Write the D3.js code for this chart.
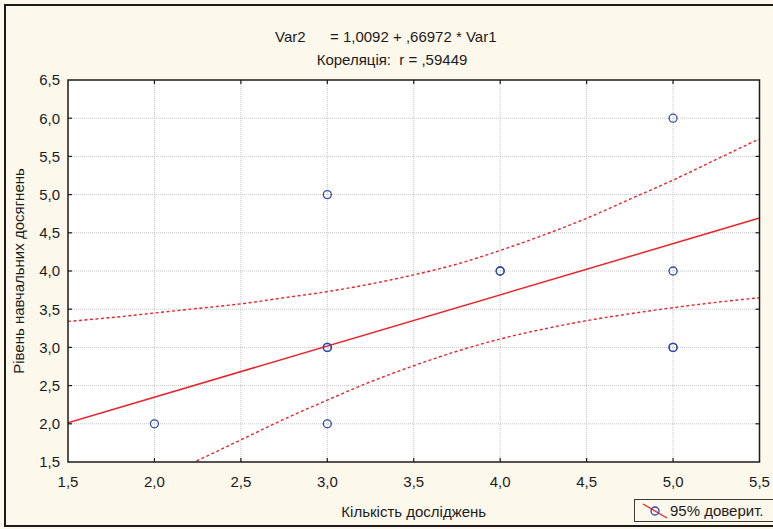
<!DOCTYPE html>
<html>
<head>
<meta charset="utf-8">
<script src="https://cdn.jsdelivr.net/npm/d3@7"></script>
<style>
  html, body { margin: 0; padding: 0; background: #fdf8ec; }
  svg { display: block; font-family: "Liberation Sans", Arial, sans-serif; }
</style>
</head>
<body>
<svg id="chart" width="773" height="529"></svg>
<script>
// Observations (Var1 = number of studies, Var2 = achievement level); repeated pairs are listed twice
const obsX = [2, 3, 3, 3, 3, 4, 4, 5, 5, 5, 5];
const obsY = [2, 5, 3, 3, 2, 4, 4, 6, 4, 3, 3];

// Fitted line Var2 = a + b * Var1
const intercept = 1.0092;
const slope = 0.66972;
const corr = 0.59449;

// 95% confidence band around the fit
const bandX     = [1.5, 1.75, 2.0, 2.25, 2.5, 2.75, 3.0, 3.25, 3.5, 3.75, 4.0, 4.25, 4.5, 4.75, 5.0, 5.25, 5.5];
const bandUpper = [3.34, 3.39, 3.45, 3.51, 3.57, 3.65, 3.73, 3.83, 3.95, 4.09, 4.27, 4.47, 4.69, 4.94, 5.19, 5.46, 5.73];
const bandLower = [0.69, 0.97, 1.25, 1.52, 1.79, 2.06, 2.31, 2.55, 2.76, 2.95, 3.11, 3.24, 3.35, 3.44, 3.52, 3.59, 3.65];

const xTicks = [1.5, 2.0, 2.5, 3.0, 3.5, 4.0, 4.5, 5.0, 5.5];
const yTicks = [1.5, 2.0, 2.5, 3.0, 3.5, 4.0, 4.5, 5.0, 5.5, 6.0, 6.5];

const xTitle = "Кількість досліджень";
const yTitle = "Рівень навчальних досягнень";
const legendLabel = "95% доверит.";

(function draw() {
  const svg = d3.select("#chart");
  const W = 773, H = 529;
  const pL = 68, pR = 759.5, pT = 80, pB = 462;

  const fmt = v => d3.format(".1f")(v).replace(".", ",");
  const fmtCoef = v => {
    const s = String(v).replace(".", ",");
    return s.startsWith("0,") ? s.slice(1) : s;
  };

  const x = d3.scaleLinear().domain([1.5, 5.5]).range([pL, pR]);
  const y = d3.scaleLinear().domain([1.5, 6.5]).range([pB, pT]);

  // page background and outer frame
  svg.append("rect").attr("x", 0).attr("y", 0).attr("width", W).attr("height", H).attr("fill", "#fdf8ec");
  svg.append("rect").attr("x", 5).attr("y", 5).attr("width", W + 10).attr("height", 521)
    .attr("fill", "none").attr("stroke", "#1b1b1b").attr("stroke-width", 2);

  // plot background
  svg.append("rect").attr("x", pL).attr("y", pT).attr("width", pR - pL).attr("height", pB - pT)
    .attr("fill", "#ffffff");

  svg.append("defs").append("clipPath").attr("id", "plotClip")
    .append("rect").attr("x", pL).attr("y", pT).attr("width", pR - pL).attr("height", pB - pT);

  // dotted grid
  const grid = svg.append("g").attr("stroke", "#c4c4c4").attr("stroke-width", 1).attr("stroke-dasharray", "1,1");
  grid.selectAll("line.gx").data(xTicks.slice(1, -1)).join("line").attr("class", "gx")
    .attr("x1", d => x(d)).attr("x2", d => x(d)).attr("y1", pT).attr("y2", pB);
  grid.selectAll("line.gy").data(yTicks.slice(1, -1)).join("line").attr("class", "gy")
    .attr("y1", d => y(d)).attr("y2", d => y(d)).attr("x1", pL).attr("x2", pR);

  const plot = svg.append("g").attr("clip-path", "url(#plotClip)");

  // confidence band curves
  const bandLine = d3.line().x(d => x(d[0])).y(d => y(d[1])).curve(d3.curveMonotoneX);
  [bandUpper, bandLower].forEach(arr => {
    plot.append("path")
      .attr("d", bandLine(bandX.map((v, i) => [v, arr[i]])))
      .attr("fill", "none").attr("stroke", "#e8232b").attr("stroke-width", 1.4)
      .attr("stroke-dasharray", "3,2.5");
  });

  // regression line
  const fitX = x.domain();
  plot.append("line")
    .attr("x1", x(fitX[0])).attr("y1", y(intercept + slope * fitX[0]))
    .attr("x2", x(fitX[1])).attr("y2", y(intercept + slope * fitX[1]))
    .attr("stroke", "#e8232b").attr("stroke-width", 1.5);

  // observations
  svg.append("g").selectAll("circle").data(obsX.map((v, i) => [v, obsY[i]])).join("circle")
    .attr("cx", d => x(d[0])).attr("cy", d => y(d[1])).attr("r", 4)
    .attr("fill", "none").attr("stroke", "#2f4aa8").attr("stroke-width", 1.3);

  // plot border
  svg.append("rect").attr("x", pL).attr("y", pT).attr("width", pR - pL).attr("height", pB - pT)
    .attr("fill", "none").attr("stroke", "#1b1b1b").attr("stroke-width", 1.5);

  // inward ticks on all four sides
  const tk = 4;
  const axes = svg.append("g").attr("stroke", "#1b1b1b").attr("stroke-width", 1.2);
  xTicks.slice(1, -1).forEach(t => {
    axes.append("line").attr("x1", x(t)).attr("x2", x(t)).attr("y1", pB).attr("y2", pB - tk);
    axes.append("line").attr("x1", x(t)).attr("x2", x(t)).attr("y1", pT).attr("y2", pT + tk);
  });
  yTicks.slice(1, -1).forEach(t => {
    axes.append("line").attr("y1", y(t)).attr("y2", y(t)).attr("x1", pL).attr("x2", pL + tk);
    axes.append("line").attr("y1", y(t)).attr("y2", y(t)).attr("x1", pR).attr("x2", pR - tk);
  });

  // tick labels
  const lab = svg.append("g").attr("fill", "#1b1b1b").attr("font-size", 15);
  lab.selectAll("text.xt").data(xTicks).join("text").attr("class", "xt")
    .attr("x", d => x(d)).attr("y", 487).attr("text-anchor", "middle").text(fmt);
  lab.selectAll("text.yt").data(yTicks).join("text").attr("class", "yt")
    .attr("x", 60).attr("y", d => y(d) + 5.3).attr("text-anchor", "end").text(fmt);

  // axis titles
  svg.append("text").attr("x", (pL + pR) / 2).attr("y", 517).attr("text-anchor", "middle")
    .attr("font-size", 15).attr("fill", "#1b1b1b").text(xTitle);
  svg.append("text").attr("transform", `translate(24,${(pT + pB) / 2}) rotate(-90)`)
    .attr("text-anchor", "middle").attr("font-size", 15).attr("fill", "#1b1b1b").text(yTitle);

  // equation and correlation
  const head = svg.append("g").attr("font-size", 15).attr("fill", "#1b1b1b");
  head.append("text").attr("x", 275).attr("y", 41.5).text("Var2");
  head.append("text").attr("x", 330).attr("y", 41.5)
    .text(`= ${fmtCoef(intercept)} + ${fmtCoef(slope)} * Var1`);
  head.append("text").attr("x", 392).attr("y", 65).attr("text-anchor", "middle")
    .attr("style", "white-space: pre").text(`Кореляція:  r = ${fmtCoef(corr)}`);

  // legend
  const lg = svg.append("g");
  lg.append("rect").attr("x", 634.5).attr("y", 499.5).attr("width", 150).attr("height", 22)
    .attr("fill", "#fdf8ec").attr("stroke", "#3a3a3a").attr("stroke-width", 1);
  lg.append("line").attr("x1", 643).attr("y1", 504).attr("x2", 667).attr("y2", 518)
    .attr("stroke", "#e8232b").attr("stroke-width", 1.3);
  lg.append("circle").attr("cx", 655).attr("cy", 511).attr("r", 4)
    .attr("fill", "none").attr("stroke", "#2f4aa8").attr("stroke-width", 1.3);
  lg.append("text").attr("x", 670).attr("y", 516).attr("font-size", 15).attr("fill", "#1b1b1b").text(legendLabel);
})();
</script>
</body>
</html>
